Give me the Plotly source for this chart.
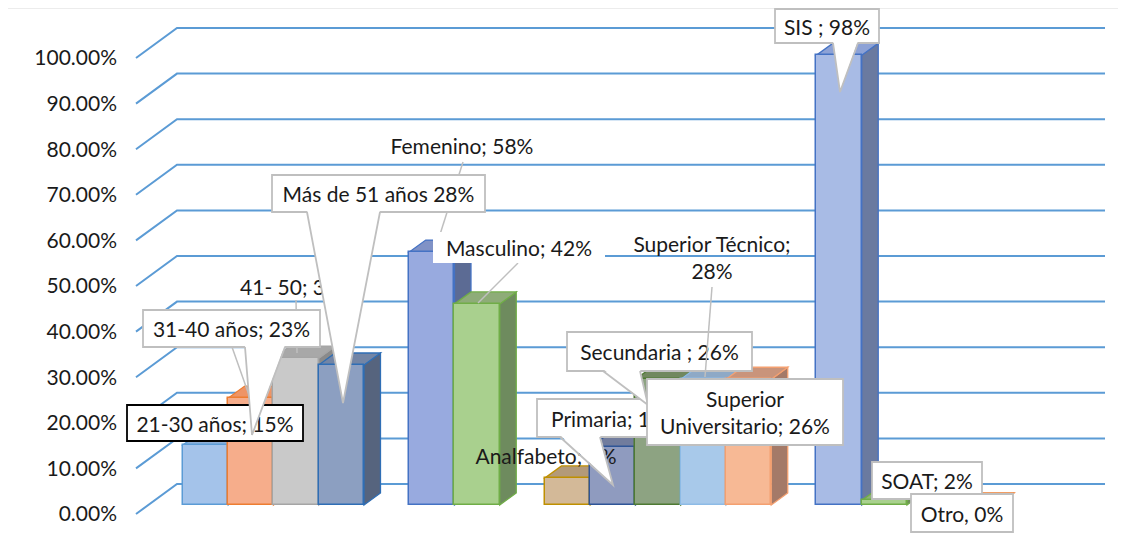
import plotly.graph_objects as go

# ---------------- data ----------------
age_categories = ["21-30 años", "31-40 años", "41- 50", "Más de 51 años"]
age_values = [0.131, 0.233, 0.320, 0.305]
age_label_texts = ["21-30 años; 15%", "31-40 años; 23%", "41- 50; 34%", "Más de 51 años 28%"]

gender_categories = ["Femenino", "Masculino"]
gender_values = [0.551, 0.438]
gender_label_texts = ["Femenino; 58%", "Masculino; 42%"]

education_categories = ["Analfabeto", "Primaria", "Secundaria", "Superior Técnico", "Superior Universitario"]
education_values = [0.059, 0.126, 0.274, 0.274, 0.274]
education_label_texts = ["Analfabeto; 7%", "Primaria; 13%", "Secundaria ; 26%",
                         "Superior Técnico;<br>28%", "Superior<br>Universitario; 26%"]

insurance_categories = ["SIS", "SOAT", "Otro"]
insurance_values = [0.98, 0.01, 0.0]
insurance_label_texts = ["SIS ; 98%", "SOAT; 2%", "Otro, 0%"]

tick_values = [0.0, 0.1, 0.2, 0.3, 0.4, 0.5, 0.6, 0.7, 0.8, 0.9, 1.0]

# ---------------- layout constants ----------------
W, H = 1126, 550
PAGE_OFF = 8                                       # default page body margin
PL, PR, PT, PB = 130, 1110, 20, 525                # plot area (page pixels)
ML, MT = PL - PAGE_OFF, PT - PAGE_OFF
MR, MB = W - (PR - PAGE_OFF), H - (PB - PAGE_OFF)
AX_ZERO_PX, AX_SCALE = 514.0, 456.0               # axis labels (front wall)
BAR_ZERO_PX, BAR_SCALE = 505.0, 459.0             # bar plane
SLOT0_PX, SLOT_PX = 205.6, 45.25                  # slot centres
DX = 16.5 / SLOT_PX                               # depth offset (x, in slots)
DY = 12.0 / BAR_SCALE                             # depth offset (y, bar units)
WALL_DY = 30.0 / AX_SCALE                         # back-wall offset for grid
WALL_X0, WALL_X1, WALL_XEND = 136, 177, 1105

FONT = "Lato"
FS = 21
TXT = "#1a1a1a"
GRID = "#5b9bd5"
GREY = "#bfbfbf"

# slots (x positions) of every bar, in the order of the data above
age_slots = [0, 1, 2, 3]
gender_slots = [5, 6]
education_slots = [8, 9, 10, 11, 12]
insurance_slots = [14, 15, 17]

# styles: (front, border, top, side)
age_styles = [("#a4c3ea", "#5b9bd5", "#8fb0d8", "#6f8fb6"),
              ("#f6ad8b", "#ed7d31", "#ee9466", "#a8705a"),
              ("#c9c9c9", "#a5a5a5", "#a8a8a8", "#8a8a8a"),
              ("#8c9fc1", "#2f6eb5", "#7385a5", "#56647e")]
gender_styles = [("#98aadf", "#4472c4", "#8092c6", "#5c6b94"),
                 ("#a9d08e", "#70ad47", "#8eac78", "#6e8b5e")]
education_styles = [("#d3b998", "#bf9000", "#b39a79", "#8f7a5e"),
                    ("#8f9bbf", "#2f5597", "#717c9d", "#56607c"),
                    ("#8da382", "#4e7a33", "#71885f", "#5c704e"),
                    ("#a8c9ea", "#8dbbe6", "#8ea9c6", "#7891ab"),
                    ("#f7b995", "#f4a070", "#c9947b", "#a47a68")]
insurance_styles = [("#a8bbe5", "#4472c4", "#8da2d6", "#6a7aa0"),
                    ("#a9d18e", "#70ad47", "#8fb07a", "#6e8b5e"),
                    ("#f4b183", "#ed7d31", "#ed7d31", "#b0643a")]

slots = age_slots + gender_slots + education_slots + insurance_slots
values = age_values + gender_values + education_values + insurance_values
styles = age_styles + gender_styles + education_styles + insurance_styles


def pxx(p):
    return (p - PL) / (PR - PL)


def pxy(p):
    return (PB - p) / (PB - PT)


shapes = []

# chart border (partly visible at top / left)
shapes.append(dict(type="rect", xref="paper", yref="paper",
                   x0=pxx(7), x1=pxx(W + 20), y0=pxy(H + 20), y1=pxy(8),
                   line=dict(color="#d9d9d9", width=1), fillcolor="rgba(0,0,0,0)",
                   layer="below"))

# wall gridlines (diagonal on side wall, horizontal on back wall)
for v in tick_values:
    path = (f"M {pxx(WALL_X0)},{v} L {pxx(WALL_X1)},{v + WALL_DY} "
            f"L {pxx(WALL_XEND)},{v + WALL_DY}")
    shapes.append(dict(type="path", xref="paper", yref="y", path=path,
                       line=dict(color=GRID, width=2), layer="below"))

# 3-D faces of the columns (drawn beneath the front faces)
for s, v, (front, border, top, side) in zip(slots, values, styles):
    xl, xr = s - 0.5, s + 0.5
    side_path = (f"M {xr},0 L {xr + DX},{DY} L {xr + DX},{v + DY} L {xr},{v} Z")
    top_path = (f"M {xl},{v} L {xr},{v} L {xr + DX},{v + DY} L {xl + DX},{v + DY} Z")
    shapes.append(dict(type="path", xref="x", yref="y2", path=side_path,
                       fillcolor=side, line=dict(color=border, width=1.3), layer="below"))
    shapes.append(dict(type="path", xref="x", yref="y2", path=top_path,
                       fillcolor=top, line=dict(color=border, width=1.3), layer="below"))

# ---------------- data-label callouts (page-pixel layout) ----------------
callouts = [
    dict(text=gender_label_texts[0], box=(392, 130, 532, 160), border=None, fill=None,
         leaders=[((463, 162), (436, 247))]),
    dict(text=age_label_texts[2], box=(232, 272, 362, 300), border=None, fill=None,
         leaders=[((296, 300), (297, 353))]),
    dict(text=age_label_texts[0], box=(127, 405, 303, 441), border="#000000", fill="#ffffff"),
    dict(text=age_label_texts[1], box=(143, 310, 320, 347), border=GREY, fill="#ffffff",
         wedge=((245, 285), 347, (252, 435)), leaders=[((232, 347), (250, 398))]),
    dict(text=age_label_texts[3], box=(272, 175, 485, 212), border=GREY, fill="#ffffff",
         wedge=((307, 380), 212, (343, 403)), leaders=[((363, 212), (343, 403))]),
    dict(text=gender_label_texts[1], box=(433, 232, 605, 263), border=None, fill="#ffffff",
         leaders=[((518, 263), (478, 303))]),
    dict(text=education_label_texts[0], box=(468, 442, 624, 468), border=None, fill=None),
    dict(text=education_label_texts[1], box=(537, 399, 693, 437), border=GREY, fill="#ffffff",
         wedge=((560, 600), 437, (613, 485))),
    dict(text=education_label_texts[2], box=(567, 332, 752, 371), border=GREY, fill="#ffffff",
         wedge=((603, 640), 371, (648, 405))),
    dict(text=education_label_texts[3], box=(620, 228, 804, 286), border=None, fill=None,
         leaders=[((712, 287), (705, 377))]),
    dict(text=education_label_texts[4], box=(647, 379, 843, 445), border=GREY, fill="#ffffff"),
    dict(text=insurance_label_texts[0], box=(775, 9, 879, 43), border=GREY, fill="#ffffff",
         wedge=((833, 858), 43, (840, 92))),
    dict(text=insurance_label_texts[1], box=(872, 462, 982, 499), border=GREY, fill="#ffffff"),
    dict(text=insurance_label_texts[2], box=(911, 494, 1013, 532), border=GREY, fill="#ffffff"),
]

for c in callouts:
    x0, y0, x1, y1 = c["box"]
    for (a, b) in c.get("leaders", []):
        shapes.append(dict(type="line", xref="paper", yref="paper",
                           x0=pxx(a[0]), y0=pxy(a[1]), x1=pxx(b[0]), y1=pxy(b[1]),
                           line=dict(color=GREY, width=1.5), layer="above"))
    shapes.append(dict(type="rect", xref="paper", yref="paper",
                       x0=pxx(x0), x1=pxx(x1), y0=pxy(y1), y1=pxy(y0),
                       fillcolor=c["fill"] or "rgba(0,0,0,0)",
                       line=dict(color=c["border"] or "rgba(0,0,0,0)",
                                 width=1.8 if c["border"] else 0),
                       label=dict(text=c["text"], textposition="middle center",
                                  font=dict(family=FONT, size=FS, color=TXT)),
                       layer="above"))
    if "wedge" in c:
        (bx0, bx1), by, (tx, ty) = c["wedge"]
        fill_path = (f"M {pxx(bx0)},{pxy(by - 2)} L {pxx(tx)},{pxy(ty)} "
                     f"L {pxx(bx1)},{pxy(by - 2)} Z")
        shapes.append(dict(type="path", xref="paper", yref="paper", path=fill_path,
                           fillcolor="#ffffff", line=dict(width=0), layer="above"))
        line_path = (f"M {pxx(bx0)},{pxy(by)} L {pxx(tx)},{pxy(ty)} "
                     f"L {pxx(bx1)},{pxy(by)}")
        shapes.append(dict(type="path", xref="paper", yref="paper", path=line_path,
                           fillcolor="rgba(0,0,0,0)", line=dict(color=GREY, width=1.8),
                           layer="above"))

# ---------------- figure ----------------
fig = go.Figure()
fig.add_trace(go.Bar(
    x=slots, y=values, width=1.0, yaxis="y2",
    marker=dict(color=[s[0] for s in styles],
                line=dict(color=[s[1] for s in styles], width=1.5)),
    hoverinfo="skip", showlegend=False))
fig.add_trace(go.Scatter(x=[None], y=[None], yaxis="y", showlegend=False, hoverinfo="skip"))

fig.update_layout(
    width=W, height=H,
    margin=dict(l=ML, r=MR, t=MT, b=MB),
    paper_bgcolor="#ffffff", plot_bgcolor="#ffffff",
    showlegend=False,
    font=dict(family=FONT, size=FS, color=TXT),
    xaxis=dict(range=[(PL - SLOT0_PX) / SLOT_PX, (PR - SLOT0_PX) / SLOT_PX],
               visible=False, fixedrange=True),
    yaxis=dict(range=[-(PB - AX_ZERO_PX) / AX_SCALE, (AX_ZERO_PX - PT) / AX_SCALE],
               tickvals=tick_values, tickformat=".2%",
               showgrid=False, zeroline=False, showline=False, ticks="",
               ticklabelstandoff=12,
               tickfont=dict(family=FONT, size=FS, color=TXT)),
    yaxis2=dict(range=[-(PB - BAR_ZERO_PX) / BAR_SCALE, (BAR_ZERO_PX - PT) / BAR_SCALE],
                overlaying="y", visible=False),
    bargap=0,
    shapes=shapes,
)

fig.write_html("out.html")
